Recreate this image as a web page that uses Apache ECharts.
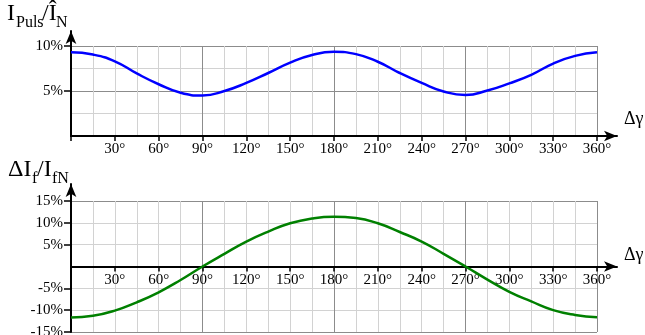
<!DOCTYPE html>
<html>
<head>
<meta charset="utf-8">
<script src="https://cdn.jsdelivr.net/npm/echarts@6/dist/echarts.min.js"></script>
<style>html,body{margin:0;padding:0;background:#fff}#c{width:645px;height:335px}</style>
</head>
<body>
<div id="c"></div>
<script>
// ---- data ----
const angles = [0,15,30,45,60,75,90,105,120,135,150,165,180,195,210,225,240,255,270,285,300,315,330,345,360];
const pulsValues = [9.3,9.05,8.3,6.95,5.75,4.8,4.5,5.0,5.9,7.0,8.15,9.0,9.35,9.1,8.25,7.0,5.9,4.95,4.55,5.05,5.85,6.8,8.05,8.9,9.3];
const fieldValues = [-11.7,-11.3,-10.1,-8.2,-5.9,-3.1,0,2.9,5.7,8.0,9.9,11.0,11.4,11.1,9.9,7.9,5.7,2.9,0,-3.0,-5.8,-8.0,-10.0,-11.1,-11.6];
const xTicks = [30,60,90,120,150,180,210,240,270,300,330,360];
const topYTicks = [5,10];
const bottomYTicks = [-15,-10,-5,5,10,15];

const FONT = 'Liberation Serif';
const LIGHT = '#d2d2d2';
const DARK = '#8c8c8c';
const pxPerDeg = 526/360;
const arrowXMax = 546/pxPerDeg;

const chart = echarts.init(document.getElementById('c'));

function gridX(gi, interval, color, pos){
  return {gridIndex:gi, type:'value', min:0, max:360, interval:interval, position:pos,
    axisLine:{show:false, onZero:false}, axisTick:{show:false}, axisLabel:{show:false},
    splitLine:{show:true, lineStyle:{color:color, width:1}}};
}
function gridY(gi, min, max, interval, color, pos){
  return {gridIndex:gi, type:'value', min:min, max:max, interval:interval, position:pos,
    axisLine:{show:false, onZero:false}, axisTick:{show:false}, axisLabel:{show:false},
    splitLine:{show:true, lineStyle:{color:color, width:1}}};
}
function labelX(gi){
  return {gridIndex:gi, type:'value', min:0, max:360, interval:30, position:'bottom',
    axisLine:{show:false, onZero:false},
    axisTick:{show:true, length:5, inside:false, lineStyle:{color:'#000', width:1.5}},
    axisLabel:{show:true, margin:6, fontFamily:FONT, fontSize:15, color:'#000',
      formatter:v => xTicks.indexOf(v) >= 0 ? v + '°' : ''},
    splitLine:{show:false}};
}
function labelY(gi, min, max, ticks){
  return {gridIndex:gi, type:'value', min:min, max:max, interval:5, position:'left',
    axisLine:{show:false, onZero:false},
    axisTick:{show:true, length:7, lineStyle:{color:'#000', width:1.5},
      customValues: ticks},
    axisLabel:{show:true, margin:8, fontFamily:FONT, fontSize:15, color:'#000',
      customValues: ticks, formatter:v => v + '%'},
    splitLine:{show:false}};
}
function hiddenY(gi){
  return {gridIndex:gi, type:'value', min:0, max:1, show:false};
}
function arrowAxisX(gi){
  return {gridIndex:gi, type:'value', min:0, max:arrowXMax, position:'bottom',
    axisLine:{show:true, onZero:true, symbol:['none','arrow'], symbolSize:[8,13],
      lineStyle:{color:'#000', width:2}},
    axisTick:{show:false}, axisLabel:{show:false}, splitLine:{show:false}};
}
function arrowAxisY(gi, min, max){
  return {gridIndex:gi, type:'value', min:min, max:max, position:'left',
    axisLine:{show:true, onZero:true, symbol:['none','arrow'], symbolSize:[8,13],
      lineStyle:{color:'#000', width:2}},
    axisTick:{show:false}, axisLabel:{show:false}, splitLine:{show:false}};
}

const topMaxArrow = 10 + 15/9;
const botMaxArrow = 15 + 17/(131/30);
const G = {outerBoundsMode:'none', containLabel:false};

const option = {
  animation:false,
  backgroundColor:'#fff',
  grid:[
    Object.assign({left:71, right:48, top:46, bottom:199}, G),   // 0 top plot
    Object.assign({left:71, right:28, top:31, bottom:199}, G),   // 1 top arrows
    Object.assign({left:71, right:48, top:201, bottom:3}, G),    // 2 bottom plot
    Object.assign({left:71, right:28, top:184, bottom:3}, G),    // 3 bottom arrows
    Object.assign({left:71, right:48, top:201, bottom:68.5}, G)  // 4 bottom x labels (upper half)
  ],
  xAxis:[
    labelX(0),                       // 0
    gridX(0, 15, LIGHT, 'top'),      // 1
    gridX(0, 90, DARK, 'top'),       // 2
    arrowAxisX(1),                   // 3
    gridX(2, 360, 'rgba(0,0,0,0)', 'bottom'), // 4 bottom plot data axis
    gridX(2, 15, LIGHT, 'top'),      // 5
    gridX(2, 90, DARK, 'top'),       // 6
    arrowAxisX(3),                   // 7
    labelX(4)                        // 8
  ],
  yAxis:[
    labelY(0, 0, 10, topYTicks),           // 0
    gridY(0, 0, 10, 2.5, LIGHT, 'right'),  // 1
    gridY(0, 0, 10, 5, DARK, 'right'),     // 2
    arrowAxisY(1, 0, topMaxArrow),         // 3
    labelY(2, -15, 15, bottomYTicks),      // 4
    gridY(2, -15, 15, 5, LIGHT, 'right'),  // 5
    gridY(2, -15, 15, 30, DARK, 'right'),  // 6
    arrowAxisY(3, -15, botMaxArrow),       // 7
    hiddenY(4)                             // 8
  ],
  series:[
    {type:'line', xAxisIndex:0, yAxisIndex:0, smooth:true, showSymbol:false,
      data: angles.map((a,i)=>[a,pulsValues[i]]),
      lineStyle:{color:'#0000ff', width:2.5}, z:3},
    {type:'line', xAxisIndex:4, yAxisIndex:4, smooth:true, showSymbol:false,
      data: angles.map((a,i)=>[a,fieldValues[i]]),
      lineStyle:{color:'#008000', width:2.5}, z:3}
  ],
  graphic:[
    {type:'text', left:7, top:2, style:{text:'I', font:'24px "Liberation Serif"', fill:'#000'}},
    {type:'text', left:16, top:15, style:{text:'Puls', font:'16px "Liberation Serif"', fill:'#000'}},
    {type:'text', left:42, top:2, style:{text:'/Î', font:'24px "Liberation Serif"', fill:'#000'}},
    {type:'text', left:56, top:15, style:{text:'N', font:'16px "Liberation Serif"', fill:'#000'}},
    {type:'text', left:8, top:158, style:{text:'ΔI', font:'24px "Liberation Serif"', fill:'#000'}},
    {type:'text', left:32, top:171, style:{text:'f', font:'16px "Liberation Serif"', fill:'#000'}},
    {type:'text', left:37, top:158, style:{text:'/I', font:'24px "Liberation Serif"', fill:'#000'}},
    {type:'text', left:52, top:171, style:{text:'fN', font:'16px "Liberation Serif"', fill:'#000'}},
    {type:'text', left:624, top:110, style:{text:'Δγ', font:'18px "Liberation Serif"', fill:'#000'}},
    {type:'text', left:624, top:246, style:{text:'Δγ', font:'18px "Liberation Serif"', fill:'#000'}}
  ]
};
chart.setOption(option);
</script>
</body>
</html>
